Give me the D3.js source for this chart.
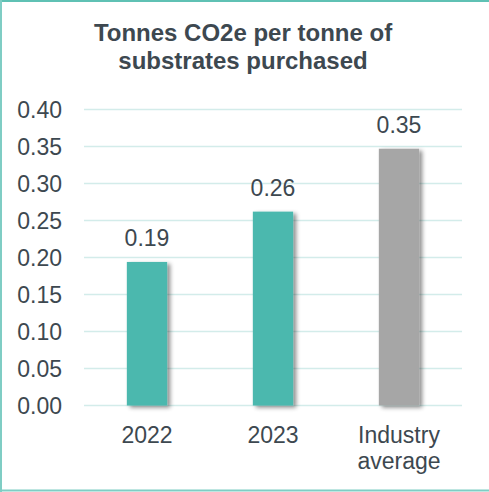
<!DOCTYPE html>
<html>
<head>
<meta charset="utf-8">
<script src="https://cdn.jsdelivr.net/npm/d3@7"></script>
<style>
  html, body { margin: 0; padding: 0; background: #fff; }
  svg { display: block; }
  text { font-family: "Liberation Sans", Arial, sans-serif; fill: #3d4850; }
</style>
</head>
<body>
<svg id="chart" width="489" height="492"></svg>
<script>
// Emissions intensity per category
const categories = ["2022", "2023", "Industry average"];
const categoryLines = [["2022"], ["2023"], ["Industry", "average"]];
const values = [0.194, 0.262, 0.347];
const valueLabels = ["0.19", "0.26", "0.35"];
const barColors = ["#4bb8ae", "#4bb8ae", "#a6a6a6"];
const yTicks = [0, 0.05, 0.10, 0.15, 0.20, 0.25, 0.30, 0.35, 0.40];
const titleLines = ["Tonnes CO2e per tonne of", "substrates purchased"];

const svg = d3.select("#chart");
const W = 489, H = 492;

// Frame (top, left, bottom edges)
svg.append("line").attr("x1", 0).attr("x2", W).attr("y1", 1).attr("y2", 1)
  .attr("stroke", "#5fc1b4").attr("stroke-width", 2);
svg.append("line").attr("x1", 1).attr("x2", 1).attr("y1", 0).attr("y2", H)
  .attr("stroke", "#7fcdc4").attr("stroke-width", 2);
svg.append("line").attr("x1", 0).attr("x2", W).attr("y1", 490.5).attr("y2", 490.5)
  .attr("stroke", "#7fcdc4").attr("stroke-width", 2);

// Soft shadow for bars
const defs = svg.append("defs");
const f = defs.append("filter").attr("id", "barShadow")
  .attr("x", "-30%").attr("y", "-10%").attr("width", "180%").attr("height", "130%");
f.append("feDropShadow").attr("dx", 3).attr("dy", 2).attr("stdDeviation", 2.2)
  .attr("flood-color", "#000").attr("flood-opacity", 0.45);

const x = d3.scaleBand().domain(categories).range([84, 462]).paddingInner(0.68).paddingOuter(0.34);
const y = d3.scaleLinear().domain([0, 0.40]).range([405.5, 109.5]);

// Title
svg.append("text").attr("x", 243).attr("text-anchor", "middle")
  .style("font-weight", "bold").style("font-size", "24px")
  .selectAll("tspan").data(titleLines).join("tspan")
  .attr("x", 243).attr("y", (d, i) => 41 + i * 27.5).text(d => d);

// Gridlines
svg.append("g").selectAll("line").data(yTicks).join("line")
  .attr("x1", 84).attr("x2", 462)
  .attr("y1", d => y(d)).attr("y2", d => y(d))
  .attr("stroke", "#d3ecea").attr("stroke-width", 1.6);

// Y axis
const yAxis = svg.append("g").attr("transform", "translate(70,0)")
  .call(d3.axisLeft(y).tickValues(yTicks).tickFormat(d3.format(".2f")).tickSize(0).tickPadding(8));
yAxis.select(".domain").remove();
yAxis.selectAll("text").style("font-size", "23px").attr("fill", "#3d4850")
  .attr("dy", "0.33em").style("font-family", "'Liberation Sans', Arial, sans-serif");

// Bars
svg.append("g").selectAll("rect").data(values).join("rect")
  .attr("x", (d, i) => x(categories[i]))
  .attr("width", x.bandwidth())
  .attr("y", d => y(d))
  .attr("height", d => y(0) - y(d))
  .attr("fill", (d, i) => barColors[i])
  .attr("filter", "url(#barShadow)");

// Value labels
svg.append("g").selectAll("text").data(values).join("text")
  .attr("x", (d, i) => x(categories[i]) + x.bandwidth() / 2)
  .attr("y", d => y(d) - 16)
  .attr("text-anchor", "middle")
  .style("font-size", "23px")
  .text((d, i) => valueLabels[i]);

// Category labels
const xl = svg.append("g").selectAll("text").data(categories).join("text")
  .attr("text-anchor", "middle").style("font-size", "23px");
xl.each(function(d, i) {
  const cx = x(d) + x.bandwidth() / 2;
  d3.select(this).selectAll("tspan").data(categoryLines[i]).join("tspan")
    .attr("x", cx).attr("y", (t, j) => 443 + j * 26).text(t => t);
});
</script>
</body>
</html>
